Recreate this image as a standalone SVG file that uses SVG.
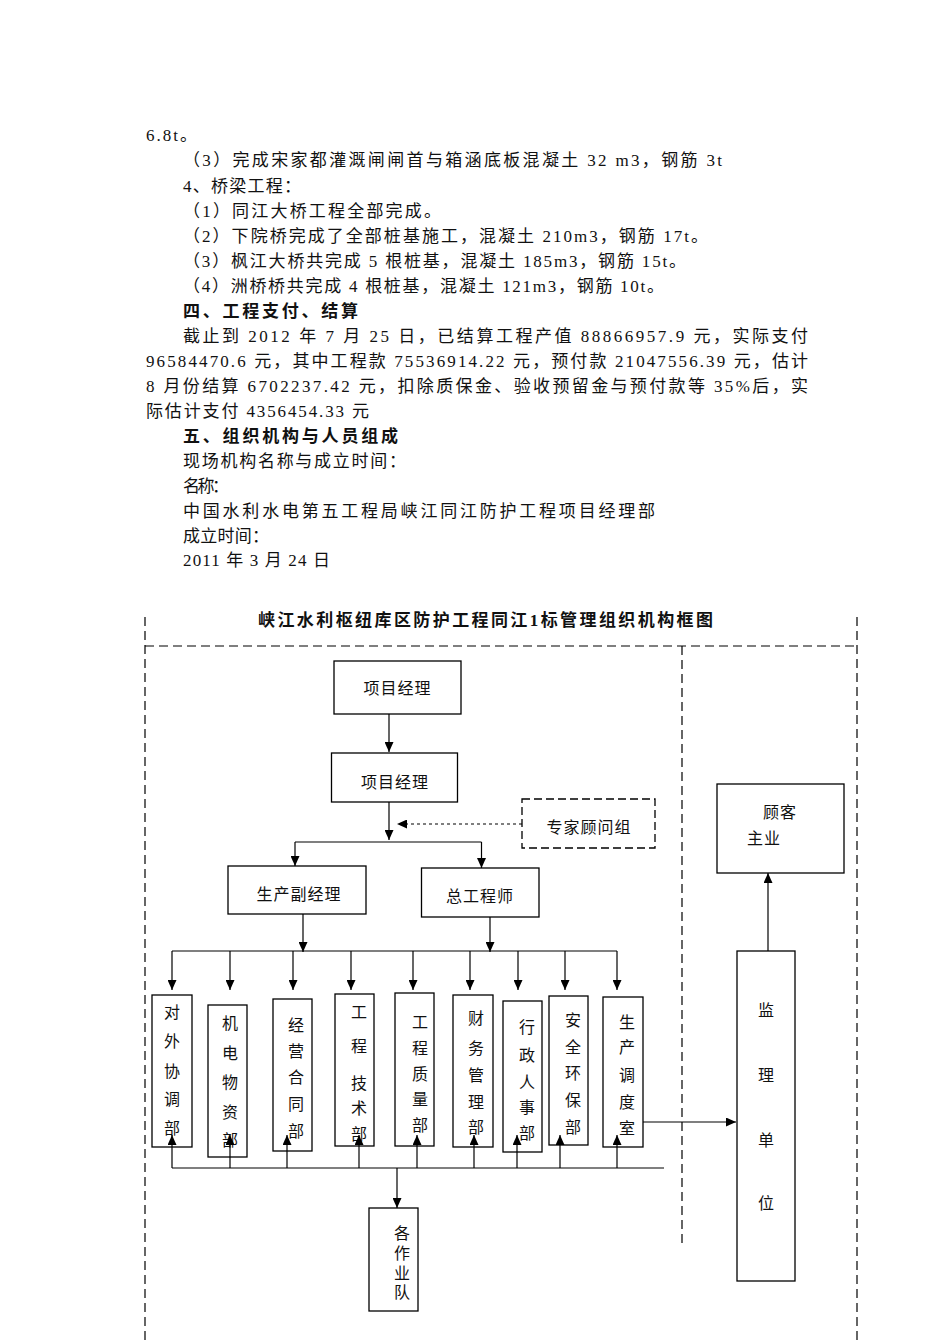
<svg xmlns="http://www.w3.org/2000/svg" width="950" height="1344" viewBox="0 0 950 1344">
<style>
.t{font-family:"Liberation Serif","Noto Sans CJK SC",serif;font-size:17px;fill:#111}
.b{font-weight:bold}
.lb{font-family:"Liberation Serif","Noto Sans CJK SC",serif;font-size:16px;fill:#111}
.h{letter-spacing:1px}
.c{text-anchor:middle}
.box{fill:#fff;stroke:#000;stroke-width:1.3}
.dbox{fill:#fff;stroke:#000;stroke-width:1.3;stroke-dasharray:8 4}
.ln{fill:none;stroke:#000;stroke-width:1.2}
.dl{fill:none;stroke:#000;stroke-width:1.2;stroke-dasharray:9 5}
.dot{fill:none;stroke:#000;stroke-width:1.2;stroke-dasharray:3 3}
</style>
<defs>
<marker id="ah" markerUnits="userSpaceOnUse" markerWidth="10" markerHeight="9" refX="10" refY="4.5" orient="auto">
<path d="M0,0 L10,4.5 L0,9 z" fill="#000"/>
</marker>
</defs>
<rect width="950" height="1344" fill="#fff"/>
<g id="body-text" class="t">
<text x="146" y="141" textLength="51" lengthAdjust="spacing">6.8t。</text>
<text x="183" y="166" textLength="539" lengthAdjust="spacing">（3）完成宋家都灌溉闸闸首与箱涵底板混凝土 32 m3，钢筋 3t</text>
<text x="183" y="192" textLength="118" lengthAdjust="spacing">4、桥梁工程：</text>
<text x="183" y="217" textLength="258" lengthAdjust="spacing">（1）同江大桥工程全部完成。</text>
<text x="183" y="242" textLength="525" lengthAdjust="spacing">（2）下院桥完成了全部桩基施工，混凝土 210m3，钢筋 17t。</text>
<text x="183" y="267" textLength="503" lengthAdjust="spacing">（3）枫江大桥共完成 5 根桩基，混凝土 185m3，钢筋 15t。</text>
<text x="183" y="292" textLength="481" lengthAdjust="spacing">（4）洲桥桥共完成 4 根桩基，混凝土 121m3，钢筋 10t。</text>
<text x="183" y="317" class="b" textLength="175" lengthAdjust="spacing">四、工程支付、结算</text>
<text x="183" y="342" textLength="625" lengthAdjust="spacing">截止到 2012 年 7 月 25 日，已结算工程产值 88866957.9 元，实际支付</text>
<text x="146" y="367" textLength="662" lengthAdjust="spacing">96584470.6 元，其中工程款 75536914.22 元，预付款 21047556.39 元，估计</text>
<text x="146" y="392" textLength="662" lengthAdjust="spacing">8 月份结算 6702237.42 元，扣除质保金、验收预留金与预付款等 35%后，实</text>
<text x="146" y="417" textLength="223" lengthAdjust="spacing">际估计支付 4356454.33 元</text>
<text x="183" y="442" class="b" textLength="215" lengthAdjust="spacing">五、组织机构与人员组成</text>
<text x="183" y="467" textLength="223" lengthAdjust="spacing">现场机构名称与成立时间：</text>
<text x="183" y="492" textLength="46" lengthAdjust="spacing">名称：</text>
<text x="183" y="517" textLength="472" lengthAdjust="spacing">中国水利水电第五工程局峡江同江防护工程项目经理部</text>
<text x="183" y="542" textLength="86" lengthAdjust="spacing">成立时间：</text>
<text x="183" y="566" textLength="147" lengthAdjust="spacing">2011 年 3 月 24 日</text>
</g>
<text id="title" class="t b c" x="485.5" y="626" textLength="455" lengthAdjust="spacing">峡江水利枢纽库区防护工程同江1标管理组织机构框图</text>
<g id="frames">
<line class="dl" x1="145" y1="617" x2="145" y2="1344"/>
<line class="dl" x1="857" y1="617" x2="857" y2="1344"/>
<line class="dl" x1="145" y1="646" x2="857" y2="646"/>
<line class="dl" x1="682" y1="646" x2="682" y2="1248"/>
</g>
<g id="connectors">
<line class="ln" x1="389" y1="714" x2="389" y2="752" marker-end="url(#ah)"/>
<line class="ln" x1="389" y1="802" x2="389" y2="840" marker-end="url(#ah)"/>
<line class="dot" x1="522" y1="824" x2="397" y2="824" marker-end="url(#ah)"/>
<line class="ln" x1="295" y1="842" x2="481.5" y2="842"/>
<line class="ln" x1="295" y1="842" x2="295" y2="866" marker-end="url(#ah)"/>
<line class="ln" x1="481.5" y1="842" x2="481.5" y2="868" marker-end="url(#ah)"/>
<line class="ln" x1="303" y1="914" x2="303" y2="952" marker-end="url(#ah)"/>
<line class="ln" x1="490" y1="917" x2="490" y2="952" marker-end="url(#ah)"/>
<line class="ln" x1="172" y1="951" x2="617" y2="951"/>
<line class="ln" x1="172" y1="951" x2="172" y2="990" marker-end="url(#ah)"/>
<line class="ln" x1="230" y1="951" x2="230" y2="990" marker-end="url(#ah)"/>
<line class="ln" x1="293" y1="951" x2="293" y2="990" marker-end="url(#ah)"/>
<line class="ln" x1="351" y1="951" x2="351" y2="990" marker-end="url(#ah)"/>
<line class="ln" x1="413" y1="951" x2="413" y2="990" marker-end="url(#ah)"/>
<line class="ln" x1="470" y1="951" x2="470" y2="990" marker-end="url(#ah)"/>
<line class="ln" x1="518" y1="951" x2="518" y2="990" marker-end="url(#ah)"/>
<line class="ln" x1="565" y1="951" x2="565" y2="990" marker-end="url(#ah)"/>
<line class="ln" x1="617" y1="951" x2="617" y2="990" marker-end="url(#ah)"/>
<line class="ln" x1="172" y1="1168" x2="664" y2="1168"/>
<line class="ln" x1="397" y1="1168" x2="397" y2="1208" marker-end="url(#ah)"/>
<line class="ln" x1="643" y1="1122" x2="736" y2="1122" marker-end="url(#ah)"/>
<line class="ln" x1="768" y1="951" x2="768" y2="873" marker-end="url(#ah)"/>
</g>
<g id="n-pm1"><rect class="box" x="334" y="661" width="127" height="53"/><text class="lb c h" x="397.5" y="694">项目经理</text></g>
<g id="n-pm2"><rect class="box" x="331.5" y="753" width="126" height="49"/><text class="lb c h" x="395" y="788">项目经理</text></g>
<g id="n-expert"><rect class="dbox" x="522" y="799" width="133" height="49"/><text class="lb c h" x="589" y="833">专家顾问组</text></g>
<g id="n-vpm"><rect class="box" x="228" y="866" width="138" height="48"/><text class="lb c h" x="299" y="900">生产副经理</text></g>
<g id="n-ce"><rect class="box" x="421.5" y="868" width="117.5" height="49"/><text class="lb c h" x="480" y="902">总工程师</text></g>
<g id="n-client"><rect class="box" x="717" y="784" width="127" height="89"/><text class="lb c h" x="780" y="818">顾客</text><text class="lb c h" x="764" y="844">主业</text></g>
<g id="n-super"><rect class="box" x="737" y="951" width="58" height="330"/><text class="lb c"><tspan x="766" y="1016">监</tspan><tspan x="766" y="1081">理</tspan><tspan x="766" y="1146">单</tspan><tspan x="766" y="1209">位</tspan></text></g>
<g id="n-d1"><rect class="box" x="152" y="995" width="40" height="152"/><text class="lb c"><tspan x="172" y="1018">对</tspan><tspan x="172" y="1047">外</tspan><tspan x="172" y="1077">协</tspan><tspan x="172" y="1105">调</tspan><tspan x="172" y="1134">部</tspan></text></g>
<g id="n-d2"><rect class="box" x="208" y="1005" width="39" height="152"/><text class="lb c"><tspan x="230" y="1029">机</tspan><tspan x="230" y="1059">电</tspan><tspan x="230" y="1088">物</tspan><tspan x="230" y="1118">资</tspan><tspan x="230" y="1146">部</tspan></text></g>
<g id="n-d3"><rect class="box" x="273" y="999" width="39" height="152"/><text class="lb c"><tspan x="296" y="1031">经</tspan><tspan x="296" y="1057">营</tspan><tspan x="296" y="1083">合</tspan><tspan x="296" y="1110">同</tspan><tspan x="296" y="1137">部</tspan></text></g>
<g id="n-d4"><rect class="box" x="335" y="994" width="39" height="152"/><text class="lb c"><tspan x="359" y="1018">工</tspan><tspan x="359" y="1052">程</tspan><tspan x="359" y="1089">技</tspan><tspan x="359" y="1114">术</tspan><tspan x="359" y="1140">部</tspan></text></g>
<g id="n-d5"><rect class="box" x="395" y="993" width="39" height="153"/><text class="lb c"><tspan x="420" y="1028">工</tspan><tspan x="420" y="1054">程</tspan><tspan x="420" y="1080">质</tspan><tspan x="420" y="1105">量</tspan><tspan x="420" y="1131">部</tspan></text></g>
<g id="n-d6"><rect class="box" x="453" y="995" width="40" height="152"/><text class="lb c"><tspan x="476" y="1024">财</tspan><tspan x="476" y="1054">务</tspan><tspan x="476" y="1081">管</tspan><tspan x="476" y="1108">理</tspan><tspan x="476" y="1133">部</tspan></text></g>
<g id="n-d7"><rect class="box" x="503" y="1001" width="39" height="151"/><text class="lb c"><tspan x="527" y="1033">行</tspan><tspan x="527" y="1061">政</tspan><tspan x="527" y="1088">人</tspan><tspan x="527" y="1113">事</tspan><tspan x="527" y="1139">部</tspan></text></g>
<g id="n-d8"><rect class="box" x="549" y="996" width="39" height="149"/><text class="lb c"><tspan x="573" y="1026">安</tspan><tspan x="573" y="1053">全</tspan><tspan x="573" y="1079">环</tspan><tspan x="573" y="1106">保</tspan><tspan x="573" y="1133">部</tspan></text></g>
<g id="n-d9"><rect class="box" x="603" y="997" width="40" height="150"/><text class="lb c"><tspan x="627" y="1028">生</tspan><tspan x="627" y="1053">产</tspan><tspan x="627" y="1081">调</tspan><tspan x="627" y="1108">度</tspan><tspan x="627" y="1134">室</tspan></text></g>
<g id="n-teams"><rect class="box" x="369" y="1208" width="49" height="103"/><text class="lb c"><tspan x="402" y="1239">各</tspan><tspan x="402" y="1259">作</tspan><tspan x="402" y="1279">业</tspan><tspan x="402" y="1298">队</tspan></text></g>
<g id="up-arrows">
<line class="ln" x1="172" y1="1168" x2="172" y2="1135" marker-end="url(#ah)"/>
<line class="ln" x1="230" y1="1168" x2="230" y2="1135" marker-end="url(#ah)"/>
<line class="ln" x1="287" y1="1168" x2="287" y2="1135" marker-end="url(#ah)"/>
<line class="ln" x1="359" y1="1168" x2="359" y2="1135" marker-end="url(#ah)"/>
<line class="ln" x1="417" y1="1168" x2="417" y2="1135" marker-end="url(#ah)"/>
<line class="ln" x1="474" y1="1168" x2="474" y2="1135" marker-end="url(#ah)"/>
<line class="ln" x1="517" y1="1168" x2="517" y2="1135" marker-end="url(#ah)"/>
<line class="ln" x1="560" y1="1168" x2="560" y2="1135" marker-end="url(#ah)"/>
<line class="ln" x1="617" y1="1168" x2="617" y2="1135" marker-end="url(#ah)"/>
</g>
</svg>
